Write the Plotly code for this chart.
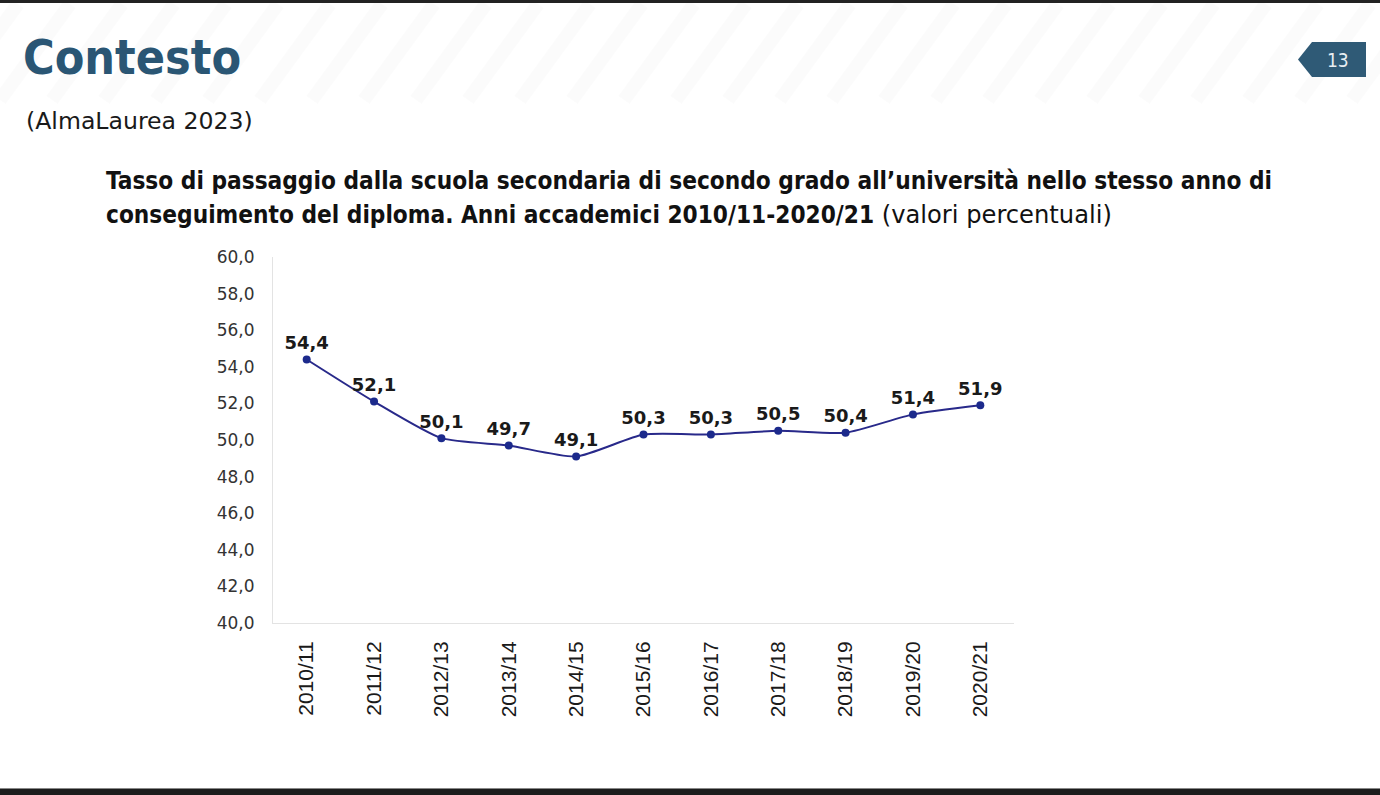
import plotly.graph_objects as go

years = ["2010/11", "2011/12", "2012/13", "2013/14", "2014/15", "2015/16",
         "2016/17", "2017/18", "2018/19", "2019/20", "2020/21"]
values = [54.4, 52.1, 50.1, 49.7, 49.1, 50.3, 50.3, 50.5, 50.4, 51.4, 51.9]
labels = [f"{v:.1f}".replace(".", ",") for v in values]

W, H = 1380, 795
L, R, T, B = 273, 1014, 257, 623

def px(x):
    return (x - L) / (R - L)

def py(y):
    return (B - y) / (B - T)

fig = go.Figure()
fig.add_trace(go.Scatter(
    x=years, y=values, mode="lines+markers+text",
    line=dict(color="#28298a", width=2, shape="spline", smoothing=0.6),
    marker=dict(color="#1c2a8c", size=8),
    text=labels, textposition="top center",
    textfont=dict(family="DejaVu Sans", size=18, color="#1a1a1a", weight="bold"),
    cliponaxis=False, hoverinfo="skip",
))

shapes = []
# faint diagonal stripes in header
for i in range(-2, 30):
    x0 = i * 52
    shapes.append(dict(type="line", xref="paper", yref="paper",
                       x0=px(x0), y0=py(100), x1=px(x0 + 70), y1=py(4),
                       line=dict(color="rgba(0,0,0,0.014)", width=14), layer="below"))
# top and bottom dark bars
shapes.append(dict(type="rect", xref="paper", yref="paper",
                   x0=px(0), x1=px(W), y0=py(0), y1=py(3),
                   fillcolor="#222222", line=dict(width=0)))
shapes.append(dict(type="rect", xref="paper", yref="paper",
                   x0=px(0), x1=px(W), y0=py(789), y1=py(795),
                   fillcolor="#1c1c1c", line=dict(width=0)))
shapes.append(dict(type="line", xref="paper", yref="paper",
                   x0=px(0), x1=px(W), y0=py(788.5), y1=py(788.5),
                   line=dict(color="#888888", width=1)))
# page badge
bx0, bx1, by0, by1 = 1298, 1366, 42, 77
path = (f"M {px(bx0)},{py((by0+by1)/2)} L {px(bx0+14)},{py(by0)} "
        f"L {px(bx1)},{py(by0)} L {px(bx1)},{py(by1)} L {px(bx0+14)},{py(by1)} Z")
shapes.append(dict(type="path", xref="paper", yref="paper", path=path,
                   fillcolor="#2f5a76", line=dict(width=0)))

BOLD = "font-family:'DejaVu Sans Condensed';font-weight:bold"
annotations = [
    dict(text="<b>Contesto</b>", x=px(21), y=py(57), xanchor="left", yanchor="middle",
         font=dict(family="DejaVu Sans Condensed", size=48, color="#2a5674")),
    dict(text="(AlmaLaurea 2023)", x=px(24), y=py(121), xanchor="left", yanchor="middle",
         font=dict(family="DejaVu Sans", size=23.6, color="#1a1a1a")),
    dict(text=f"<span style=\"{BOLD}\">Tasso di passaggio dalla scuola secondaria di secondo grado all’università nello stesso anno di</span>",
         x=px(104), y=py(181), xanchor="left", yanchor="middle",
         font=dict(family="DejaVu Sans", size=24.2, color="#111111")),
    dict(text=f"<span style=\"{BOLD}\">conseguimento del diploma. Anni accademici 2010/11-2020/21</span> (valori percentuali)",
         x=px(104), y=py(215), xanchor="left", yanchor="middle",
         font=dict(family="DejaVu Sans", size=24.2, color="#111111")),
    dict(text="13", x=px(1338), y=py(60), xanchor="center", yanchor="middle",
         font=dict(family="DejaVu Sans Condensed", size=19, color="#e8eef2")),
]
for a in annotations:
    a.update(xref="paper", yref="paper", showarrow=False)

fig.update_layout(
    width=W, height=H,
    margin=dict(l=L, r=W - R, t=T, b=H - B, pad=0),
    paper_bgcolor="white", plot_bgcolor="white",
    showlegend=False,
    separators=",.",
    shapes=shapes, annotations=annotations,
    xaxis=dict(range=[-0.5, 10.5], showgrid=False, showline=True,
               linecolor="#e3e3e3", linewidth=1, tickangle=-90, ticks="",
               tickfont=dict(family="Liberation Sans, Arial", size=21, color="#1a1a1a"),
               ticklabelstandoff=9, fixedrange=True),
    yaxis=dict(range=[40, 60], dtick=2, tickformat=".1f", showgrid=False,
               showline=True, linecolor="#e3e3e3", linewidth=1, ticks="",
               zeroline=False,
               tickfont=dict(family="DejaVu Sans", size=17, color="#333333"),
               ticklabelstandoff=14, fixedrange=True),
)

fig.write_html("out.html")
